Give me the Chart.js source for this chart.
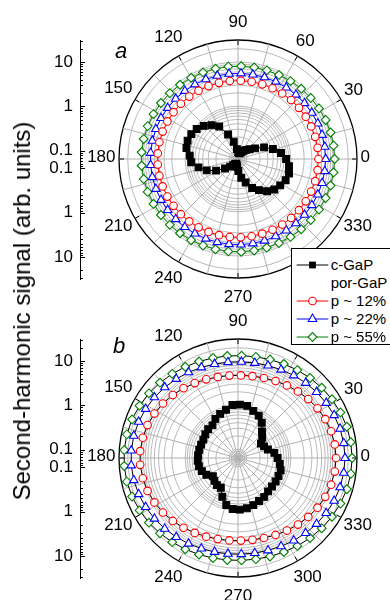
<!DOCTYPE html>
<html><head><meta charset="utf-8">
<script src="https://cdn.jsdelivr.net/npm/chart.js@4.4.1/dist/chart.umd.min.js"></script>
<style>
html,body{margin:0;padding:0;background:#fff;}
#wrap{position:relative;width:390px;height:600px;overflow:hidden;font-family:"Liberation Sans",Arial,Helvetica,sans-serif;color:#000;}
canvas{position:absolute;left:0;}
#cA{top:0;} #cB{top:280px;}
#ytitle{position:absolute;left:22px;top:311px;transform:translate(-50%,-50%) rotate(-90deg);white-space:nowrap;font-size:24px;}
.panel{position:absolute;font-style:italic;font-size:22px;line-height:22px;transform:translate(-50%,-50%);}
#legend{position:absolute;left:291px;top:248px;width:120px;height:97px;border:1px solid #000;background:#fff;box-sizing:border-box;}
.row{position:absolute;left:0;height:18px;width:120px;}
.row svg{position:absolute;left:0;top:0;}
.row span{position:absolute;left:38.7px;top:0;line-height:18px;font-size:15px;white-space:nowrap;}
</style></head>
<body><div id="wrap">
<canvas id="cA" width="400" height="320"></canvas>
<canvas id="cB" width="400" height="320"></canvas>
<div id="ytitle">Second-harmonic signal (arb. units)</div>
<div class="panel" style="left:121px;top:51px;">a</div>
<div class="panel" style="left:119px;top:346px;">b</div>
<div id="legend"></div>
</div>
<script>
// ---------- data ----------
const angles = [0,8,16,24,32,40,48,56,64,72,80,88,96,104,112,120,128,136,144,152,160,168,176,184,192,200,208,216,224,232,240,248,256,264,272,280,288,296,304,312,320,328,336,344,352];
const seriesNames = ['c-GaP','p ~ 12%','p ~ 22%','p ~ 55%'];

const a_cGaP = [0.78,0.61,0.42,0.28,0.18,0.14,0.12,0.106,0.095,0.086,0.086,0.09,0.106,0.16,0.25,0.45,0.59,0.76,0.91,1.0,1.04,0.99,0.79,0.73,0.52,0.36,0.23,0.146,0.112,0.095,0.086,0.082,0.086,0.095,0.118,0.17,0.23,0.34,0.45,0.61,0.75,0.85,0.96,1.01,0.93];
const a_p12 = [4.22,4.21,4.19,4.14,4.09,4.03,3.98,3.92,3.86,3.82,3.80,3.79,3.79,3.81,3.84,3.89,3.95,4.01,4.06,4.12,4.17,4.20,4.22,4.22,4.20,4.17,4.12,4.06,4.01,3.95,3.89,3.84,3.81,3.79,3.79,3.80,3.82,3.86,3.92,3.98,4.03,4.09,4.14,4.19,4.21];
const a_p22 = [6.14,6.13,6.10,6.04,5.96,5.88,5.79,5.71,5.64,5.59,5.55,5.54,5.54,5.57,5.61,5.68,5.75,5.84,5.92,6.00,6.07,6.12,6.14,6.14,6.12,6.07,6.00,5.92,5.84,5.75,5.68,5.61,5.57,5.54,5.54,5.55,5.59,5.64,5.71,5.79,5.88,5.96,6.04,6.10,6.13];
const a_p55 = [9.81,9.77,9.66,9.49,9.26,9.02,8.78,8.56,8.37,8.22,8.12,8.07,8.09,8.16,8.29,8.46,8.67,8.90,9.15,9.38,9.58,9.73,9.80,9.80,9.73,9.58,9.38,9.15,8.90,8.67,8.46,8.29,8.16,8.09,8.07,8.12,8.22,8.37,8.56,8.78,9.02,9.26,9.49,9.66,9.77];

const b_cGaP = [0.50,0.43,0.32,0.28,0.26,0.33,0.41,0.58,0.74,0.84,1.0,1.03,1.02,0.85,0.76,0.67,0.55,0.55,0.52,0.49,0.49,0.50,0.51,0.52,0.51,0.47,0.41,0.32,0.35,0.38,0.38,0.56,0.79,0.92,0.94,0.91,0.84,0.77,0.73,0.66,0.64,0.64,0.64,0.64,0.57];
const b_p12 = [10.6,10.4,9.97,9.28,8.46,7.60,6.80,6.10,5.53,5.11,4.85,4.74,4.78,4.97,5.30,5.79,6.43,7.18,8.03,8.88,9.65,10.2,10.6,10.6,10.2,9.65,8.88,8.03,7.18,6.43,5.79,5.30,4.97,4.78,4.74,4.85,5.11,5.53,6.10,6.80,7.60,8.46,9.28,9.97,10.4];
const b_p22 = [16.9,16.7,16.2,15.4,14.4,13.4,12.4,11.5,10.7,10.1,9.77,9.61,9.67,9.93,10.4,11.1,11.9,12.9,13.9,14.9,15.8,16.5,16.9,16.9,16.5,15.8,14.9,13.9,12.9,11.9,11.1,10.4,9.93,9.67,9.61,9.77,10.1,10.7,11.5,12.4,13.4,14.4,15.4,16.2,16.7];
const b_p55 = [24.5,24.2,23.4,22.1,20.6,19.0,17.5,16.1,14.9,14.1,13.5,13.3,13.4,13.8,14.5,15.5,16.7,18.2,19.8,21.4,22.8,23.9,24.4,24.4,23.9,22.8,21.4,19.8,18.2,16.7,15.5,14.5,13.8,13.4,13.3,13.5,14.1,14.9,16.1,17.5,19.0,20.6,22.1,23.4,24.2];

// axis ticks
const angleLabels = [0,30,60,90,120,150,180,210,240,270,300,330];
const radialGrid = [0.07,0.08,0.09,0.1,0.2,0.3,0.4,0.5,0.6,0.7,0.8,0.9,1,2,3,4,5,6,7,8,9,10,20];
const leftMajor = [0.1,1,10];
const leftMinor = [0.07,0.08,0.09,0.2,0.3,0.4,0.5,0.6,0.7,0.8,0.9,2,3,4,5,6,7,8,9,20,30];
const RMIN = Math.pow(10,-1.2), RMAX = Math.pow(10,1.5);

const FONT = '"Liberation Sans", Arial, Helvetica, sans-serif';
const RED = '#ff0000', BLUE = '#0000ff', GREEN = '#008000';

// ---------- log radial scale ----------
class LogRadialScale extends Chart.RadialLinearScale {
  getDistanceFromCenterForValue(value) {
    if (value === null || value === undefined || isNaN(value) || value <= 0) return NaN;
    const l0 = Math.log10(this.min), l1 = Math.log10(this.max);
    return this.drawingArea * (Math.log10(value) - l0) / (l1 - l0);
  }
  getValueForDistanceFromCenter(d) {
    const l0 = Math.log10(this.min), l1 = Math.log10(this.max);
    return Math.pow(10, l0 + d / this.drawingArea * (l1 - l0));
  }
}
LogRadialScale.id = 'logRadial';
Chart.register(LogRadialScale);

// radar table: one slot per degree, clockwise from east -> counter-clockwise angles
const labels = Array.from({length:360}, (_, i) => (360 - i) % 360);
function toTable(vals){
  const arr = new Array(360).fill(null);
  angles.forEach((a, k) => { arr[(360 - a) % 360] = vals[k]; });
  return arr;
}

function datasets(cg, p12, p22, p55, ringLines){
  const base = {spanGaps:true, fill:false, borderWidth:1, tension:0, pointBorderWidth:1.1, pointHoverRadius:0};
  return [
    Object.assign({}, base, {label:seriesNames[0], data:toTable(cg), borderColor:'#000', pointStyle:'rect', pointRadius:4.8, pointBackgroundColor:'#000', pointBorderColor:'#000'}),
    Object.assign({}, base, {label:seriesNames[1], data:toTable(p12), borderColor: ringLines || RED, pointStyle:'circle', pointRadius:3.8, pointBackgroundColor:'#fff', pointBorderColor:RED}),
    Object.assign({}, base, {label:seriesNames[2], data:toTable(p22), borderColor: ringLines || BLUE, pointStyle:'triangle', pointRadius:4.9, pointBackgroundColor:'#fff', pointBorderColor:BLUE}),
    Object.assign({}, base, {label:seriesNames[3], data:toTable(p55), borderColor: ringLines || GREEN, pointStyle:'rectRot', pointRadius:4.4, pointBackgroundColor:'#fff', pointBorderColor:GREEN})
  ];
}

const decor = {
  id:'decor',
  afterDraw(chart){
    const ctx = chart.ctx, r = chart.scales.r, y = chart.scales.y;
    ctx.save();
    // major ticks on the outer circle (inward)
    ctx.strokeStyle = '#000'; ctx.lineWidth = 1;
    angleLabels.forEach(a => {
      const i = (360 - a) % 360;
      const p1 = r.getPointPosition(i, r.drawingArea);
      const p2 = r.getPointPosition(i, r.drawingArea - 5);
      ctx.beginPath(); ctx.moveTo(p1.x, p1.y); ctx.lineTo(p2.x, p2.y); ctx.stroke();
    });
    // angle labels
    ctx.font = '17px ' + FONT; ctx.fillStyle = '#000';
    ctx.textAlign = 'center'; ctx.textBaseline = 'middle';
    angleLabels.forEach(a => {
      const t = String(a), w = ctx.measureText(t).width;
      const rad = a * Math.PI / 180;
      const d = r.drawingArea + 3.5 + w / 2 + 3 * Math.abs(Math.sin(rad));
      const p = r.getPointPosition((360 - a) % 360, d);
      ctx.fillText(t, p.x, p.y - 1.5);
    });
    // inward ticks on the left log axis (mirrored)
    const x0 = Math.round(y.right) + 0.5;
    ctx.lineWidth = 1; ctx.strokeStyle = '#000';
    const tick = (v, len) => {
      const u = Math.log10(v / RMIN);
      [u, -u].forEach(s => {
        const py = Math.round(y.getPixelForValue(s)) + 0.5;
        ctx.beginPath(); ctx.moveTo(x0, py); ctx.lineTo(x0 + len, py); ctx.stroke();
      });
    };
    leftMajor.forEach(v => tick(v, 4.5));
    leftMinor.forEach(v => tick(v, 2.5));
    ctx.restore();
  }
};

function makeChart(id, ds, padTop, padBottom){
  return new Chart(document.getElementById(id), {
    type:'radar',
    data:{labels, datasets:ds},
    plugins:[decor],
    options:{
      responsive:false, animation:false, events:[],
      layout:{padding:{left:50, right:3, top:padTop, bottom:padBottom}},
      plugins:{legend:{display:false}, tooltip:{enabled:false}},
      scales:{
        r:{
          type:'logRadial', min:RMIN, max:RMAX, startAngle:90,
          ticks:{display:false},
          pointLabels:{display:false},
          afterBuildTicks: s => {
            s.min = RMIN; s.max = RMAX;
            s.ticks = [RMIN].concat(radialGrid, [RMAX]).map(v => ({value:v}));
          },
          grid:{circular:true,
            color: c => (c.tick && c.tick.value >= RMAX * 0.999) ? '#000' : '#b9b9b9',
            lineWidth: c => (c.tick && c.tick.value >= RMAX * 0.999) ? 1.3 : 1},
          angleLines:{
            color:'#b0b0b0',
            lineWidth: c => (((360 - c.index) % 360) % 15 === 0) ? 1 : 0
          }
        },
        y:{
          type:'linear', position:'left', min:-2.7, max:2.7,
          grid:{display:false, drawTicks:false},
          border:{display:true, color:'#000', width:1},
          afterFit: s => { s.width = 30; },
          afterBuildTicks: s => {
            const t = [];
            leftMajor.forEach(v => { const u = Math.log10(v / RMIN); t.push({value:u}, {value:-u}); });
            t.sort((p, q) => p.value - q.value);
            s.ticks = t;
          },
          ticks:{
            autoSkip:false, padding:7, color:'#000', font:{size:17, family:FONT},
            callback: val => {
              const v = RMIN * Math.pow(10, Math.abs(val));
              const m = leftMajor.find(x => Math.abs(Math.log10(x / v)) < 0.02);
              return m === undefined ? '' : String(m);
            }
          }
        }
      }
    }
  });
}

makeChart('cA', datasets(a_cGaP, a_p12, a_p22, a_p55, null), 40, 41);
makeChart('cB', datasets(b_cGaP, b_p12, b_p22, b_p55, '#000'), 59, 22);

// ---------- legend ----------
const legendRows = [
  {text:seriesNames[0], color:'#000', marker:'rect'},
  {text:'por-GaP', color:null, marker:null},
  {text:seriesNames[1], color:RED, marker:'circle'},
  {text:seriesNames[2], color:BLUE, marker:'triangle'},
  {text:seriesNames[3], color:GREEN, marker:'diamond'}
];
const lg = document.getElementById('legend');
legendRows.forEach((row, k) => {
  const d = document.createElement('div');
  d.className = 'row'; d.style.top = (7 + k * 18) + 'px';
  let svg = '';
  if (row.color){
    const cx = 20.5, cy = 9;
    let m = '';
    if (row.marker === 'rect') m = `<rect x="${cx-3.4}" y="${cy-3.4}" width="6.8" height="6.8" fill="#000"/>`;
    if (row.marker === 'circle') m = `<circle cx="${cx}" cy="${cy}" r="3.8" fill="#fff" stroke="${row.color}" stroke-width="1.1"/>`;
    if (row.marker === 'triangle') m = `<polygon points="${cx},${cy-4.9} ${cx-4.24},${cy+2.45} ${cx+4.24},${cy+2.45}" fill="#fff" stroke="${row.color}" stroke-width="1.1"/>`;
    if (row.marker === 'diamond') m = `<polygon points="${cx},${cy-4.4} ${cx+4.4},${cy} ${cx},${cy+4.4} ${cx-4.4},${cy}" fill="#fff" stroke="${row.color}" stroke-width="1.1"/>`;
    svg = `<svg width="40" height="18"><line x1="4.7" y1="${cy}" x2="36.3" y2="${cy}" stroke="${row.color}" stroke-width="1"/>${m}</svg>`;
  }
  d.innerHTML = svg + `<span>${row.text}</span>`;
  lg.appendChild(d);
});
</script>
</body></html>
